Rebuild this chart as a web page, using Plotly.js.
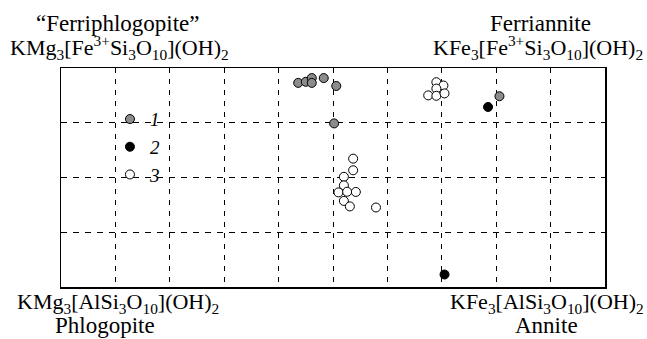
<!DOCTYPE html>
<html>
<head>
<meta charset="utf-8">
<script src="https://cdn.plot.ly/plotly-3.0.1.min.js"></script>
<style>html,body{margin:0;padding:0;background:#fff;}#chart{width:647px;height:339px;}</style>
</head>
<body>
<div id="chart"></div>
<script>
// Series 1 (grey)
const s1x = [0.436, 0.450, 0.461, 0.461, 0.483, 0.506, 0.502, 0.806];
const s1y = [0.932, 0.937, 0.954, 0.932, 0.954, 0.918, 0.747, 0.871];
// Series 2 (black)
const s2x = [0.785, 0.705];
const s2y = [0.822, 0.057];
// Series 3 (open)
const s3x = [0.690, 0.703, 0.690, 0.675, 0.690, 0.705,
             0.537, 0.537, 0.520, 0.520, 0.510, 0.526, 0.542, 0.520, 0.531, 0.579];
const s3y = [0.935, 0.920, 0.906, 0.875, 0.873, 0.884,
             0.586, 0.533, 0.503, 0.464, 0.432, 0.435, 0.434, 0.393, 0.368, 0.363];
const seriesNames = ['1', '2', '3'];

const serif = 'Liberation Serif';
const mk = (fill) => ({size: 9, color: fill, line: {color: '#000', width: 1}});

const traces = [
  {x: s1x, y: s1y, name: seriesNames[0], type: 'scatter', mode: 'markers', marker: mk('#8c8c8c')},
  {x: s2x, y: s2y, name: seriesNames[1], type: 'scatter', mode: 'markers', marker: mk('#000')},
  {x: s3x, y: s3y, name: seriesNames[2], type: 'scatter', mode: 'markers', marker: mk('#fff')}
];

function ann(text, x, y, size) {
  return {text: text, x: x, y: y, xref: 'paper', yref: 'paper', xanchor: 'center', yanchor: 'middle',
          showarrow: false, font: {family: serif, size: size, color: '#000'}};
}

const layout = {
  width: 647, height: 339,
  margin: {l: 61, r: 42, t: 68, b: 52},
  paper_bgcolor: '#fff', plot_bgcolor: '#fff',
  font: {family: serif, color: '#000'},
  xaxis: {range: [0, 1], dtick: 0.1, tick0: 0, showticklabels: false, ticks: '',
          showgrid: true, gridcolor: '#000', gridwidth: 1, griddash: '5px,6px',
          zeroline: false, showline: true, mirror: true, linecolor: '#000', linewidth: 1.5, fixedrange: true},
  yaxis: {range: [0, 1], dtick: 0.25, tick0: 0, showticklabels: false, ticks: '',
          showgrid: true, gridcolor: '#000', gridwidth: 1, griddash: '6px,6px',
          zeroline: false, showline: true, mirror: true, linecolor: '#000', linewidth: 1.5, fixedrange: true},
  showlegend: true,
  legend: {x: 0.09, y: 0.853, xanchor: 'left', yanchor: 'top', bgcolor: 'rgba(0,0,0,0)',
           font: {family: serif, size: 19, style: 'italic', color: '#000'}, tracegroupgap: 0},
  annotations: [
    ann('\u201CFerriphlogopite\u201D', 0.104, 1.204, 23),
    ann('KMg<sub>3</sub>[Fe<sup>3+</sup>Si<sub>3</sub>O<sub>10</sub>](OH)<sub>2</sub>', 0.1075, 1.095, 22),
    ann('Ferriannite', 0.882, 1.204, 23),
    ann('KFe<sub>3</sub>[Fe<sup>3+</sup>Si<sub>3</sub>O<sub>10</sub>](OH)<sub>2</sub>', 0.877, 1.095, 22),
    ann('KMg<sub>3</sub>[AlSi<sub>3</sub>O<sub>10</sub>](OH)<sub>2</sub>', 0.104, -0.075, 22),
    ann('Phlogopite', 0.081, -0.177, 23),
    ann('KFe<sub>3</sub>[AlSi<sub>3</sub>O<sub>10</sub>](OH)<sub>2</sub>', 0.893, -0.075, 22),
    ann('Annite', 0.893, -0.177, 23)
  ]
};

Plotly.newPlot('chart', traces, layout, {displayModeBar: false, staticPlot: true});
</script>
</body>
</html>
